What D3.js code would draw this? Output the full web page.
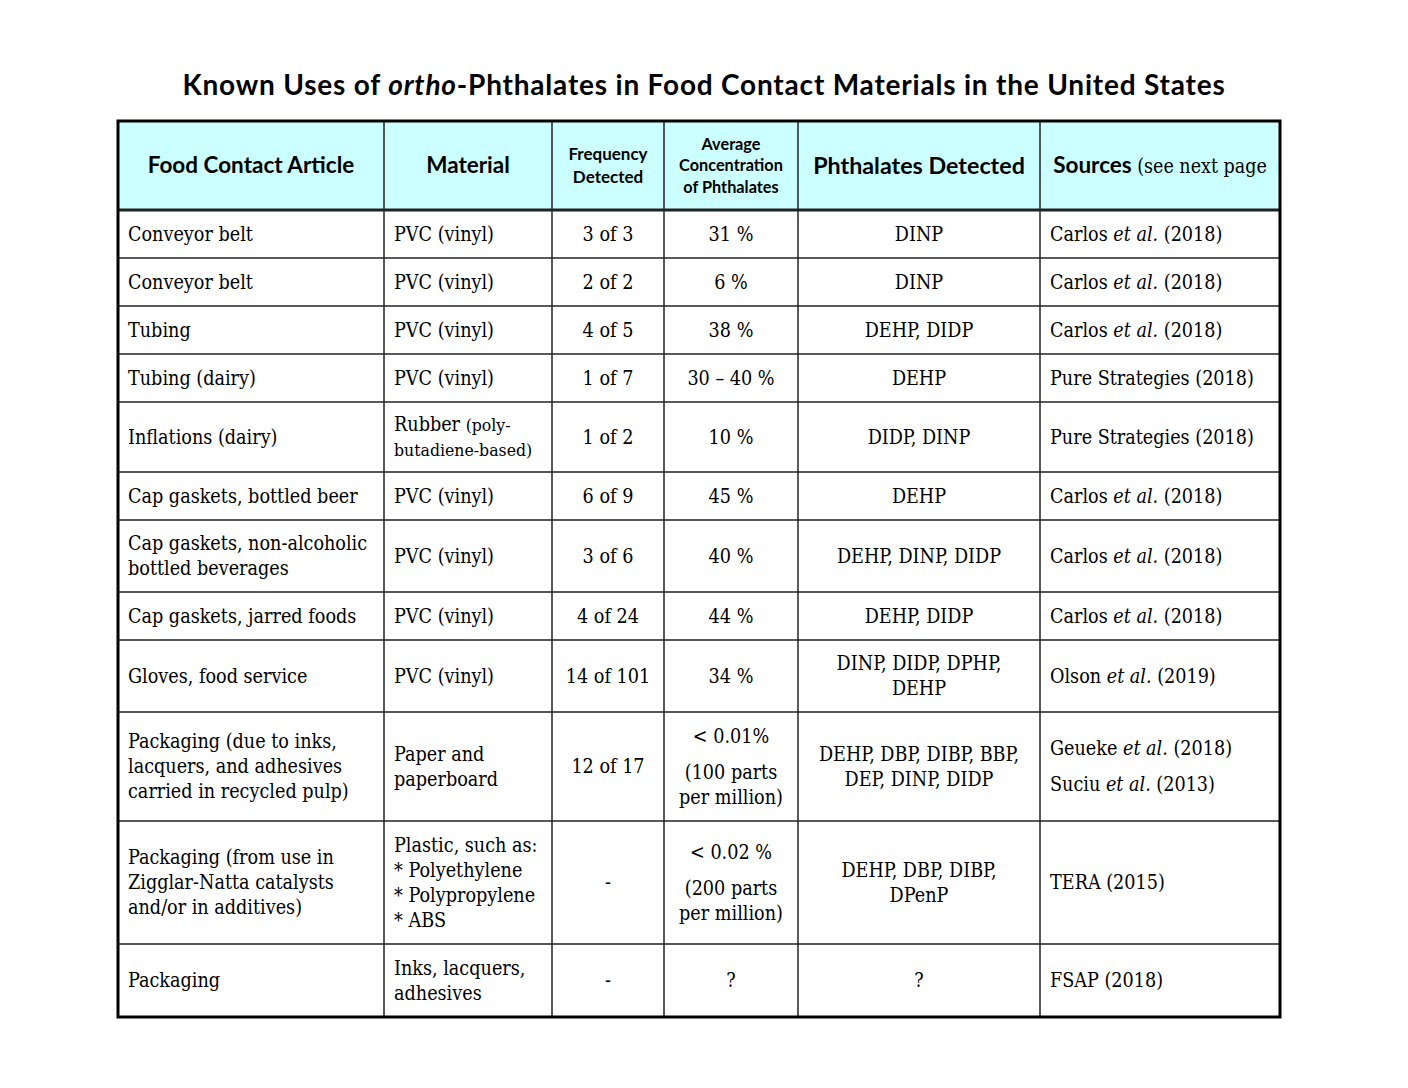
<!DOCTYPE html>
<html>
<head>
<meta charset="utf-8">
<script src="https://cdn.jsdelivr.net/npm/d3@7"></script>
<style>
  body { margin: 0; background: #fff; }
</style>
</head>
<body>
<svg id="plotarea"></svg>
<script>
// table content, one small list per column
var title = "Known Uses of _ortho_-Phthalates in Food Contact Materials in the United States";

var headers = [
    ["Food Contact Article"],
    ["Material"],
    ["Frequency", "Detected"],
    ["Average", "Concentration", "of Phthalates"],
    ["Phthalates Detected"],
    ["Sources [(see next page]"]
];

var articles = [
    ["Conveyor belt"],
    ["Conveyor belt"],
    ["Tubing"],
    ["Tubing (dairy)"],
    ["Inflations (dairy)"],
    ["Cap gaskets, bottled beer"],
    ["Cap gaskets, non-alcoholic", "bottled beverages"],
    ["Cap gaskets, jarred foods"],
    ["Gloves, food service"],
    ["Packaging (due to inks,", "lacquers, and adhesives", "carried in recycled pulp)"],
    ["Packaging (from use in", "Zigglar-Natta catalysts", "and/or in additives)"],
    ["Packaging"]
];

var materials = [
    ["PVC (vinyl)"],
    ["PVC (vinyl)"],
    ["PVC (vinyl)"],
    ["PVC (vinyl)"],
    ["Rubber [(poly-]", "[butadiene-based)]"],
    ["PVC (vinyl)"],
    ["PVC (vinyl)"],
    ["PVC (vinyl)"],
    ["PVC (vinyl)"],
    ["Paper and", "paperboard"],
    ["Plastic, such as:", "* Polyethylene", "* Polypropylene", "* ABS"],
    ["Inks, lacquers,", "adhesives"]
];

var frequencies = [
    ["3 of 3"], ["2 of 2"], ["4 of 5"], ["1 of 7"], ["1 of 2"], ["6 of 9"],
    ["3 of 6"], ["4 of 24"], ["14 of 101"], ["12 of 17"], ["-"], ["-"]
];

var concentrations = [
    ["31 %"], ["6 %"], ["38 %"], ["30 \u2013 40 %"], ["10 %"], ["45 %"],
    ["40 %"], ["44 %"], ["34 %"],
    ["< 0.01%", "", "(100 parts", "per million)"],
    ["< 0.02 %", "", "(200 parts", "per million)"],
    ["?"]
];

var phthalates = [
    ["DINP"],
    ["DINP"],
    ["DEHP, DIDP"],
    ["DEHP"],
    ["DIDP, DINP"],
    ["DEHP"],
    ["DEHP, DINP, DIDP"],
    ["DEHP, DIDP"],
    ["DINP, DIDP, DPHP,", "DEHP"],
    ["DEHP, DBP, DIBP, BBP,", "DEP, DINP, DIDP"],
    ["DEHP, DBP, DIBP,", "DPenP"],
    ["?"]
];

var sources = [
    ["Carlos _et al._ (2018)"],
    ["Carlos _et al._ (2018)"],
    ["Carlos _et al._ (2018)"],
    ["Pure Strategies (2018)"],
    ["Pure Strategies (2018)"],
    ["Carlos _et al._ (2018)"],
    ["Carlos _et al._ (2018)"],
    ["Carlos _et al._ (2018)"],
    ["Olson _et al._ (2019)"],
    ["Geueke _et al._ (2018)", "", "Suciu _et al._ (2013)"],
    ["TERA (2015)"],
    ["FSAP (2018)"]
];

// layout
var width = 1408, height = 1088;
var tableLeft = 118, tableTop = 121;
var colWidths = [266, 168, 112, 134, 242, 240];
var rowHeights = [89, 48, 48, 48, 48, 70, 48, 72, 48, 72, 109, 123, 73];
var colAlign = ["start", "start", "middle", "middle", "middle", "start"];
var pad = 10;

var sansFont = "Lato, 'Open Sans', sans-serif";
var serifFont = "'DejaVu Serif Condensed', 'DejaVu Serif', serif";
var bodySize = 19.6, bodyLine = 25, paraGap = 11;
var headSize = [22.5, 22.5, 17, 16.3, 23.3, 22.5];
var headLine = [25, 25, 23, 21.5, 25, 25];

var columns = [articles, materials, frequencies, concentrations, phthalates, sources];

var colEdges = [tableLeft];
colWidths.forEach(function (w, i) { colEdges.push(colEdges[i] + w); });
var rowEdges = [tableTop];
rowHeights.forEach(function (h, i) { rowEdges.push(rowEdges[i] + h); });
var tableRight = colEdges[colEdges.length - 1], tableBottom = rowEdges[rowEdges.length - 1];

var svg = d3.select("#plotarea")
    .attr("width", width)
    .attr("height", height)
    .style("display", "block");

svg.append("rect").attr("width", width).attr("height", height).attr("fill", "#fff");

// split "_italic_" and "[alt]" pieces
function segments(line) {
    return line.split(/(_[^_]+_|\[[^\]]+\])/).filter(function (s) { return s.length; })
        .map(function (s) {
            if (s[0] == "_") return {t: s.slice(1, -1), kind: "italic"};
            if (s[0] == "[") return {t: s.slice(1, -1), kind: "alt"};
            return {t: s, kind: "plain"};
        });
}

// title
var titleText = svg.append("text")
    .attr("x", width / 2)
    .attr("y", 95)
    .attr("text-anchor", "middle")
    .style("font-family", sansFont)
    .style("font-weight", "bold")
    .style("font-size", "28px")
    .style("letter-spacing", "0.8px")
    .attr("fill", "#000");
titleText.selectAll("tspan")
    .data(segments(title))
    .enter()
    .append("tspan")
    .style("font-style", function (d) { return d.kind == "italic" ? "italic" : "normal"; })
    .text(function (d) { return d.t; });

// header background
svg.append("rect")
    .attr("x", tableLeft).attr("y", tableTop)
    .attr("width", tableRight - tableLeft).attr("height", rowHeights[0])
    .attr("fill", "#ccffff");

// writes the lines of one cell
function drawCell(g, lines, col, row, isHead) {
    var x0 = colEdges[col], x1 = colEdges[col + 1];
    var y0 = rowEdges[row], y1 = rowEdges[row + 1];
    var fs = isHead ? headSize[col] : bodySize;
    var lh = isHead ? headLine[col] : bodyLine;
    var anchor = isHead ? "middle" : colAlign[col];
    var x = anchor == "middle" ? (x0 + x1) / 2 : x0 + pad;

    var total = 0;
    lines.forEach(function (l) { total += l === "" ? paraGap : lh; });
    var cursor = (y0 + y1) / 2 - total / 2;

    lines.forEach(function (l) {
        if (l === "") { cursor += paraGap; return; }
        var t = g.append("text")
            .attr("x", x)
            .attr("y", cursor + lh / 2 + fs * 0.35)
            .attr("text-anchor", anchor)
            .attr("fill", "#000")
            .style("font-family", isHead ? sansFont : serifFont)
            .style("font-weight", isHead ? "bold" : "normal")
            .style("font-size", fs + "px");
        t.selectAll("tspan")
            .data(segments(l))
            .enter()
            .append("tspan")
            .style("font-style", function (d) { return d.kind == "italic" ? "italic" : "normal"; })
            .style("font-family", function (d) { return d.kind == "alt" ? serifFont : null; })
            .style("font-weight", function (d) { return d.kind == "alt" ? "normal" : null; })
            .style("font-size", function (d) {
                if (d.kind != "alt") return null;
                return isHead ? "19.5px" : "17.5px";
            })
            .text(function (d) { return d.t; });
        cursor += lh;
    });
}

var cells = svg.append("g").attr("class", "cells");
headers.forEach(function (lines, c) { drawCell(cells, lines, c, 0, true); });
columns.forEach(function (colData, c) {
    colData.forEach(function (lines, r) { drawCell(cells, lines, c, r + 1, false); });
});

// grid lines
var grid = svg.append("g").attr("class", "grid");
grid.selectAll(".hline")
    .data(rowEdges.slice(1, -1))
    .enter()
    .append("line")
    .attr("class", "hline")
    .attr("x1", tableLeft).attr("x2", tableRight)
    .attr("y1", function (d) { return d; })
    .attr("y2", function (d) { return d; })
    .attr("stroke", "#222")
    .attr("stroke-width", function (d, i) { return i == 0 ? 3 : 1.5; });

grid.selectAll(".vline")
    .data(colEdges.slice(1, -1))
    .enter()
    .append("line")
    .attr("class", "vline")
    .attr("y1", tableTop).attr("y2", tableBottom)
    .attr("x1", function (d) { return d; })
    .attr("x2", function (d) { return d; })
    .attr("stroke", "#222")
    .attr("stroke-width", 1.5);

grid.append("rect")
    .attr("x", tableLeft).attr("y", tableTop)
    .attr("width", tableRight - tableLeft).attr("height", tableBottom - tableTop)
    .attr("fill", "none")
    .attr("stroke", "#000")
    .attr("stroke-width", 3);
</script>
</body>
</html>
